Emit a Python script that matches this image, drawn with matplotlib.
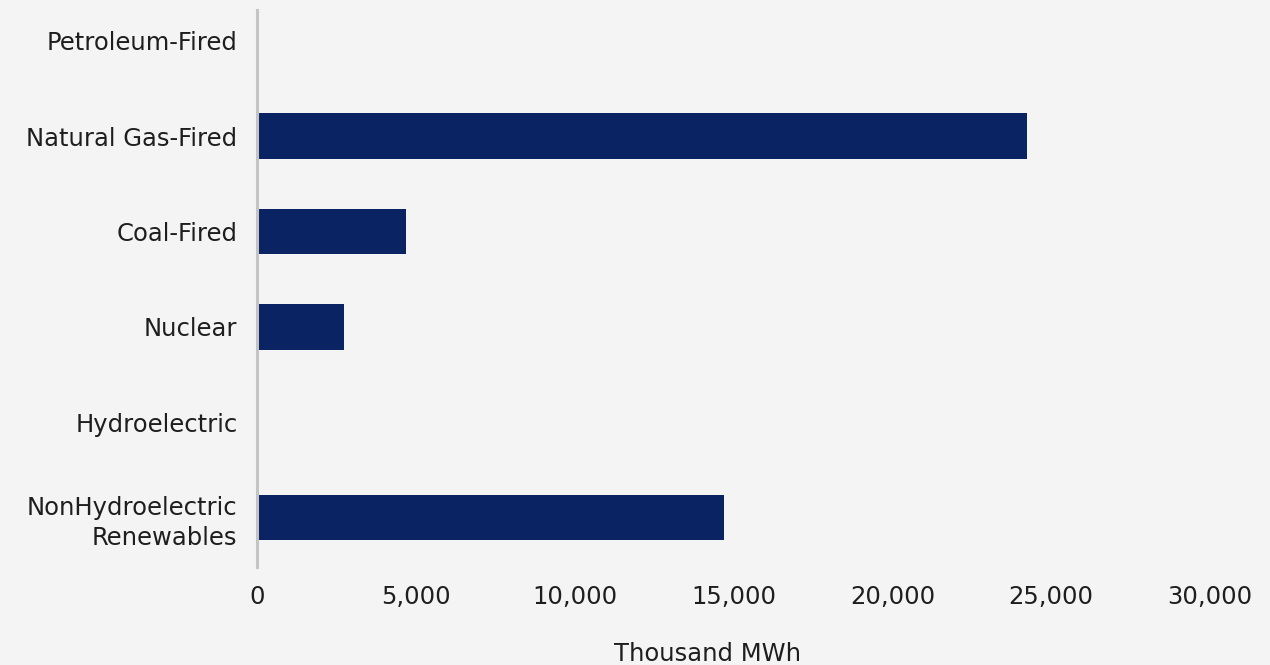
import matplotlib.pyplot as plt
from matplotlib.ticker import FuncFormatter

# net generation by source, thousand MWh
sources = ["Petroleum-Fired", "Natural Gas-Fired", "Coal-Fired", "Nuclear",
           "Hydroelectric", "NonHydroelectric\nRenewables"]
generation = [0, 24250, 4690, 2740, 0, 14690]
x_ticks = [0, 5000, 10000, 15000, 20000, 25000, 30000]

bg = "#f4f4f4"
bar_color = "#0a2463"
txt = "#1e1e1e"
fs = 17.5

plt.rcParams['font.family'] = ['DejaVu Sans']

fig = plt.figure(figsize=(12.7, 6.65), dpi=100, facecolor=bg)
ax = fig.add_axes([257 / 1270, 1 - 567 / 665, (1210 - 257) / 1270, (567 - 10) / 665])
ax.set_facecolor(bg)

ax.barh(range(len(sources)), generation, height=0.48, color=bar_color)

ax.set_ylim(5.52, -0.325)
ax.set_xlim(0, 30000)
ax.set_yticks(range(len(sources)))
ax.set_yticklabels(sources, fontsize=fs, color=txt, linespacing=1.3)
ax.set_xticks(x_ticks)
ax.xaxis.set_major_formatter(FuncFormatter(lambda v, p: f"{int(v):,}"))
ax.tick_params(axis="x", length=0, pad=13, labelsize=fs, labelcolor=txt)
ax.tick_params(axis="y", length=0, pad=14)

for side in ["top", "right", "bottom"]:
    ax.spines[side].set_visible(False)
ax.spines["left"].set_color("#c4c4c4")
ax.spines["left"].set_linewidth(2.2)

ax.set_xlabel("Thousand MWh", fontsize=fs, color=txt)
ax.xaxis.set_label_coords(0.473, -0.135)

fig.savefig("out.png", dpi=100, facecolor=bg)
